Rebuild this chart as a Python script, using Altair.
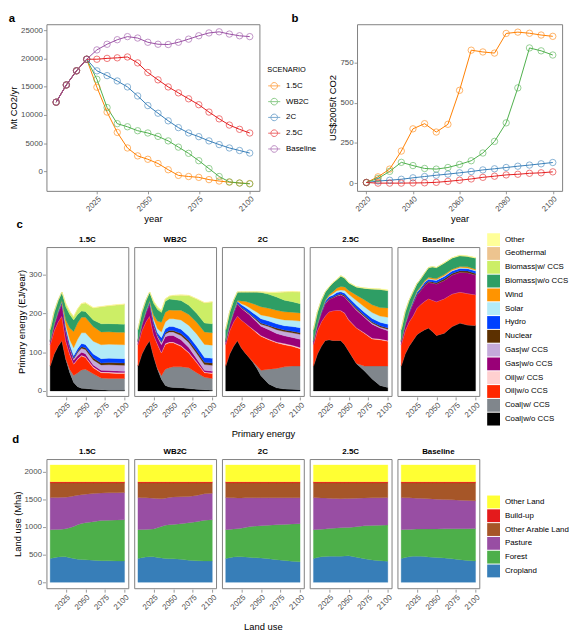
import altair as alt
import pandas as pd

SCENARIOS = ["1.5C", "WB2C", "2C", "2.5C", "Baseline"]
SCENARIO_COLORS = ["#FF7F00", "#4DAF4A", "#377EB8", "#E41A1C", "#984EA3"]

# ---------------- panel a: emissions (Mt CO2/yr)
EM_YEARS = [2005, 2010, 2015, 2020, 2025, 2030, 2035, 2040, 2045, 2050,
            2055, 2060, 2065, 2070, 2075, 2080, 2085, 2090, 2095, 2100]
EM_15C = [12250, 15300, 17800, 19850, 14900, 10500, 6900, 4150, 2750, 2150,
          1400, 300, -700, -900, -1050, -1450, -1700, -1900, -2050, -2150]
EM_WB2C = [12250, 15300, 17800, 19850, 16300, 11300, 8450, 7900, 7200, 6800,
           6200, 5400, 4300, 3200, 1900, 500, -900, -1850, -2050, -2200]
EM_2C = [12250, 15300, 17800, 19850, 17800, 16950, 16000, 14950, 13350, 11650,
         10300, 8950, 7750, 6800, 6150, 5400, 4750, 4150, 3700, 3250]
EM_25C = [12250, 15300, 17800, 19850, 19850, 20000, 20100, 20250, 19200, 17500,
          16200, 14950, 13900, 12850, 11800, 10500, 9300, 8200, 7450, 6800]
EM_BASE = [12250, 15300, 17800, 19850, 21500, 22500, 23300, 23850, 23600, 22850,
           22500, 22450, 22850, 23400, 24000, 24500, 24700, 24300, 24000, 23850]

# ---------------- panel b: carbon price (US$2005/t CO2)
PRICE_YEARS = [2020, 2025, 2030, 2035, 2040, 2045, 2050, 2055, 2060,
               2065, 2070, 2075, 2080, 2085, 2090, 2095, 2100]
PRICE_15C = [5, 40, 88, 200, 338, 370, 318, 366, 577, 826, 815, 808, 930, 938, 931, 920, 912]
PRICE_WB2C = [5, 30, 74, 130, 110, 92, 88, 98, 117, 140, 188, 260, 375, 592, 840, 822, 796]
PRICE_2C = [5, 14, 19, 25, 34, 42, 50, 57, 65, 73, 83, 90, 98, 106, 113, 121, 129]
PRICE_25C = [5, 1, 1, 1, 2, 3, 6, 12, 19, 27, 37, 44, 52, 56, 62, 65, 71]

# ---------------- panel c: primary energy (EJ/year)
PE_YEARS = [2005, 2010, 2015, 2020, 2025, 2030, 2035, 2040, 2045, 2050,
            2060, 2070, 2080, 2090, 2100]
FUELS = ["Other", "Geothermal", "Biomass|w/ CCS", "Biomass|w/o CCS", "Wind", "Solar",
         "Hydro", "Nuclear", "Gas|w/ CCS", "Gas|w/o CCS", "Oil|w/ CCS", "Oil|w/o CCS",
         "Coal|w/ CCS", "Coal|w/o CCS"]
FUEL_COLORS = ["#FFFF99", "#EDC48F", "#CCEE66", "#2E9E65", "#FF9400", "#B3EBF7",
               "#0040FF", "#5C3000", "#C4AADA", "#990077", "#FFD0D0", "#FF2800",
               "#80868C", "#000000"]

PE_15C = {
    "Coal|w/o CCS":    [64, 95, 115, 130, 81, 47, 22, 11, 7, 6, 4, 3, 2, 2, 2],
    "Coal|w/ CCS":     [0, 0, 0, 0, 2, 8, 18, 35, 47, 50, 40, 30, 30, 30, 30],
    "Oil|w/o CCS":     [55, 60, 63, 63, 45, 39, 29, 35, 36, 30, 16, 14, 14, 13, 13],
    "Oil|w/ CCS":      [0, 0, 0, 0, 1, 1, 1, 2, 2, 2, 2, 2, 2.5, 2.5, 2.5],
    "Gas|w/o CCS":     [8, 14, 22, 32, 24, 14, 9, 8, 8, 8, 5, 4, 4, 4, 3.5],
    "Gas|w/ CCS":      [0, 0, 0, 1, 2, 3, 4, 8, 10, 11, 13, 14, 15, 15, 15],
    "Nuclear":         [1, 1, 1, 1, 2, 2, 2, 3, 4, 4, 5, 5, 6, 6, 6],
    "Hydro":           [2, 3, 4, 4, 6, 6, 6, 7, 8, 9, 10, 11, 11, 11, 11],
    "Solar":           [0, 0, 0.5, 1, 7, 12, 20, 24, 28, 30, 33, 36, 36, 36, 36],
    "Wind":            [0, 0, 0.5, 1, 13, 30, 42, 42, 40, 40, 38, 33, 32, 32, 32],
    "Biomass|w/o CCS": [28, 30, 27, 22, 34, 35, 30, 22, 16, 15, 17, 21, 21, 21, 21],
    "Biomass|w/ CCS":  [0, 0, 0, 0, 8, 8, 8, 14, 19, 22, 31, 44, 46, 49, 51],
    "Geothermal":      [0, 0, 0, 0, 0, 0, 0, 0, 0, 0, 0, 0, 0.3, 0.3, 0.5],
    "Other":           [0.5, 0.5, 0.5, 0.5, 0.5, 1, 1, 1, 1, 1, 1.5, 1, 1, 1, 1],
}
PE_WB2C = {
    "Coal|w/o CCS":    [64, 95, 115, 130, 90, 56, 30, 14, 10, 9, 8, 6, 4, 3, 2],
    "Coal|w/ CCS":     [0, 0, 0, 0, 0, 2, 9, 42, 50, 53, 54, 54, 43, 32, 30],
    "Oil|w/o CCS":     [55, 60, 63, 63, 55, 62, 59, 64, 64, 62, 53, 38, 26, 12, 13],
    "Oil|w/ CCS":      [0, 0, 0, 0, 0, 1, 1, 2, 2, 2, 2, 2, 2, 2, 2],
    "Gas|w/o CCS":     [8, 14, 22, 32, 25, 18, 20, 18, 17, 17, 15, 12, 8, 4, 4],
    "Gas|w/ CCS":      [0, 0, 0, 1, 2, 3, 6, 7, 9, 9, 11, 13, 14, 15, 15],
    "Nuclear":         [1, 1, 1, 1, 2, 2, 2, 3, 4, 4, 5, 5, 6, 6, 6],
    "Hydro":           [2, 3, 4, 4, 6, 6, 10, 10, 10, 10, 11, 11, 12, 12, 12],
    "Solar":           [0, 0, 0.5, 1, 6, 10, 15, 18, 20, 20, 24, 28, 32, 34, 34],
    "Wind":            [0, 0, 0.5, 1, 10, 20, 25, 25, 23, 22, 25, 28, 30, 32, 32],
    "Biomass|w/o CCS": [28, 30, 27, 22, 30, 30, 25, 28, 28, 28, 25, 24, 23, 23, 23],
    "Biomass|w/ CCS":  [0, 0, 0, 0, 5, 6, 5, 6, 7, 10, 14, 25, 37, 52, 56],
    "Geothermal":      [0, 0, 0, 0, 0, 0, 0, 0, 0, 0, 0, 0, 0.3, 0.3, 0.5],
    "Other":           [0.5, 0.5, 0.5, 0.5, 1, 1, 1, 1, 1, 1, 1, 1, 1, 1, 1],
}
PE_2C = {
    "Coal|w/o CCS":    [64, 95, 115, 130, 111, 98, 86, 73, 58, 39, 18, 8, 5, 4, 3],
    "Coal|w/ CCS":     [0, 0, 0, 0, 0, 0, 0, 2, 6, 14, 38, 50, 57, 60, 61],
    "Oil|w/o CCS":     [55, 60, 63, 63, 72, 77, 80, 83, 85, 88, 76, 66, 57, 51, 45],
    "Oil|w/ CCS":      [0, 0, 0, 0, 0, 0, 1, 1, 2, 2, 2, 2, 3, 3, 3],
    "Gas|w/o CCS":     [8, 14, 22, 32, 30, 30, 30, 28, 26, 24, 24, 22, 20, 20, 21],
    "Gas|w/ CCS":      [0, 0, 0, 1, 1, 2, 2, 3, 4, 5, 8, 10, 11, 12, 13],
    "Nuclear":         [1, 1, 1, 1, 2, 2, 2, 2, 3, 3, 3, 4, 4, 4, 4],
    "Hydro":           [2, 3, 4, 4, 6, 7, 8, 9, 10, 11, 11, 11, 11, 12, 13],
    "Solar":           [0, 0, 0.5, 1, 3, 5, 6, 8, 9, 10, 12, 14, 15, 16, 17],
    "Wind":            [0, 0, 0.5, 1, 7, 10, 13, 16, 18, 21, 21, 21, 21, 21, 21],
    "Biomass|w/o CCS": [28, 30, 27, 22, 23, 24, 27, 30, 34, 37, 36, 34, 30, 27, 24],
    "Biomass|w/ CCS":  [0, 0, 0, 0, 0, 0, 0, 0, 0, 1, 5, 12, 21, 26, 30],
    "Geothermal":      [0, 0, 0, 0, 0, 0, 0, 0, 0, 0, 0, 0, 0, 0, 0],
    "Other":           [0.5, 0.5, 0.5, 0.5, 1, 1, 1, 1, 1, 1, 1, 1, 1, 1, 1],
}
PE_25C = {
    "Coal|w/o CCS":    [64, 95, 115, 130, 132, 130, 130, 130, 119, 103, 70, 52, 31, 14, 9],
    "Coal|w/ CCS":     [0, 0, 0, 0, 0, 0, 0, 0, 0, 0, 1, 12, 33, 50, 55],
    "Oil|w/o CCS":     [55, 60, 63, 63, 72, 77, 78, 77, 81, 80, 91, 85, 70, 68, 64],
    "Oil|w/ CCS":      [0, 0, 0, 0, 0, 0, 0, 0.5, 1, 1, 1, 1, 2, 2, 2],
    "Gas|w/o CCS":     [8, 14, 22, 32, 32, 33, 37, 40, 41, 46, 45, 40, 36, 28, 25],
    "Gas|w/ CCS":      [0, 0, 0, 1, 0, 0, 0.5, 1, 1, 1, 2, 2, 3, 3, 4],
    "Nuclear":         [1, 1, 1, 1, 2, 2, 2, 2, 3, 3, 3, 3, 3, 3, 3],
    "Hydro":           [2, 3, 4, 4, 5, 5, 6, 5, 6, 7, 8, 8, 9, 9, 10],
    "Solar":           [0, 0, 0.5, 1, 2, 4, 5, 5, 7, 8, 12, 14, 15, 16, 18],
    "Wind":            [0, 0, 0.5, 1, 3, 5, 7, 9, 9, 10, 14, 18, 20, 22, 24],
    "Biomass|w/o CCS": [28, 30, 27, 22, 20, 23, 22, 27, 23, 20, 21, 30, 41, 47, 45],
    "Biomass|w/ CCS":  [0, 0, 0, 0, 0, 0, 0, 0, 0, 0, 0, 0, 0, 0, 0],
    "Geothermal":      [0, 0, 0, 0, 0, 0, 0, 0, 0, 0, 0, 0, 0, 0, 0],
    "Other":           [0.5, 0.5, 0.5, 0.5, 1, 1, 1, 1, 1, 1, 1, 1, 1, 1.5, 2],
}
PE_BASE = {
    "Coal|w/o CCS":    [64, 95, 115, 130, 145, 152, 158, 162, 153, 143, 149, 166, 175, 170, 169],
    "Coal|w/ CCS":     [0, 0, 0, 0, 0, 0, 0, 0, 0, 0, 0, 0, 0, 0, 0],
    "Oil|w/o CCS":     [55, 60, 63, 63, 68, 71, 73, 76, 81, 87, 89, 84, 80, 81, 79],
    "Oil|w/ CCS":      [0, 0, 0, 0, 0, 0, 0, 0, 0, 0, 0, 0, 0, 0, 0],
    "Gas|w/o CCS":     [8, 14, 22, 32, 34, 36, 41, 42, 44, 46, 47, 49, 51, 54, 51],
    "Gas|w/ CCS":      [0, 0, 0, 1, 0, 0, 0, 0, 0, 0, 0, 0, 0, 0, 0],
    "Nuclear":         [1, 1, 1, 1, 2, 2, 3, 3, 3, 3, 4, 4, 4, 4, 4],
    "Hydro":           [2, 3, 4, 4, 5, 5, 5, 5, 5, 6, 6, 6, 6, 6, 6],
    "Solar":           [0, 0, 0.5, 1, 1, 1.5, 1.5, 2, 2, 2, 2, 2, 2, 2, 2],
    "Wind":            [0, 0, 0.5, 1, 2, 2.5, 2.5, 3, 3, 3, 3, 3, 3, 3, 3],
    "Biomass|w/o CCS": [28, 30, 27, 22, 19, 19, 20, 25, 29, 28, 30, 29, 28, 27, 29],
    "Biomass|w/ CCS":  [0, 0, 0, 0, 0, 0, 0, 0, 0, 0, 0, 0, 0, 0, 0],
    "Geothermal":      [0, 0, 0, 0, 0, 0, 0, 0, 0, 0, 0, 0, 0, 0, 0],
    "Other":           [0.5, 0.5, 0.5, 0.5, 0.5, 0.5, 0.5, 1, 1, 1, 1, 1, 1.5, 1.5, 1.5],
}

# ---------------- panel d: land use (Mha)
LAND_YEARS = [2005, 2010, 2015, 2020, 2025, 2030, 2035, 2040, 2045, 2050,
              2060, 2070, 2080, 2090, 2100]
LANDS = ["Other Land", "Build-up", "Other Arable Land", "Pasture", "Forest", "Cropland"]
LAND_COLORS = ["#FFFF33", "#E41A1C", "#A65628", "#984EA3", "#4DAF4A", "#377EB8"]

LU_15C = {
    "Cropland":          [430, 445, 458, 462, 460, 445, 430, 418, 412, 408, 400, 392, 388, 386, 385],
    "Forest":            [520, 507, 498, 498, 508, 540, 580, 622, 650, 668, 695, 723, 732, 739, 745],
    "Pasture":           [580, 578, 576, 575, 570, 560, 550, 532, 520, 514, 507, 497, 496, 493, 490],
    "Other Arable Land": [265, 265, 263, 260, 257, 250, 235, 223, 213, 205, 193, 183, 179, 177, 175],
    "Build-up":          [20, 20, 20, 20, 20, 20, 20, 20, 20, 20, 20, 20, 20, 20, 20],
    "Other Land":        [305, 305, 305, 305, 305, 305, 305, 305, 305, 305, 305, 305, 305, 305, 305],
}
LU_WB2C = {
    "Cropland":          [430, 445, 458, 462, 462, 450, 440, 430, 427, 425, 415, 398, 390, 386, 385],
    "Forest":            [520, 507, 498, 498, 503, 535, 570, 600, 613, 620, 643, 677, 705, 734, 745],
    "Pasture":           [580, 576, 571, 565, 555, 527, 498, 490, 492, 495, 487, 475, 475, 480, 480],
    "Other Arable Land": [265, 267, 268, 270, 275, 283, 287, 275, 263, 255, 250, 245, 225, 195, 185],
    "Build-up":          [20, 20, 20, 20, 20, 20, 20, 20, 20, 20, 20, 20, 20, 20, 20],
    "Other Land":        [305, 305, 305, 305, 305, 305, 305, 305, 305, 305, 305, 305, 305, 305, 305],
}
LU_2C = {
    "Cropland":          [430, 445, 458, 462, 462, 458, 452, 446, 443, 440, 428, 410, 395, 380, 370],
    "Forest":            [520, 510, 504, 506, 516, 532, 550, 566, 575, 582, 602, 628, 650, 672, 690],
    "Pasture":           [580, 573, 564, 557, 547, 536, 525, 516, 510, 506, 498, 490, 483, 476, 468],
    "Other Arable Land": [265, 267, 269, 270, 270, 269, 268, 267, 267, 267, 267, 267, 267, 267, 267],
    "Build-up":          [20, 20, 20, 20, 20, 20, 20, 20, 20, 20, 20, 20, 20, 20, 20],
    "Other Land":        [305, 305, 305, 305, 305, 305, 305, 305, 305, 305, 305, 305, 305, 305, 305],
}
LU_25C = {
    "Cropland":          [430, 448, 462, 468, 472, 472, 470, 470, 474, 480, 455, 425, 405, 392, 380],
    "Forest":            [520, 507, 498, 497, 498, 503, 510, 515, 514, 510, 550, 595, 623, 640, 655],
    "Pasture":           [580, 573, 565, 557, 548, 539, 532, 525, 524, 525, 515, 504, 498, 496, 495],
    "Other Arable Land": [265, 267, 270, 273, 277, 281, 283, 285, 283, 280, 275, 271, 269, 267, 265],
    "Build-up":          [20, 20, 20, 20, 20, 20, 20, 20, 20, 20, 20, 20, 20, 20, 20],
    "Other Land":        [305, 305, 305, 305, 305, 305, 305, 305, 305, 305, 305, 305, 305, 305, 305],
}
LU_BASE = {
    "Cropland":          [430, 448, 462, 470, 472, 470, 465, 458, 453, 450, 440, 425, 410, 395, 385],
    "Forest":            [520, 505, 494, 490, 490, 493, 499, 507, 512, 515, 526, 542, 558, 574, 585],
    "Pasture":           [580, 575, 570, 564, 558, 553, 549, 545, 541, 537, 529, 523, 516, 509, 502],
    "Other Arable Land": [265, 267, 269, 271, 275, 279, 282, 285, 289, 293, 300, 305, 311, 317, 323],
    "Build-up":          [20, 20, 20, 20, 20, 20, 20, 20, 20, 20, 20, 20, 20, 20, 20],
    "Other Land":        [305, 305, 305, 305, 305, 305, 305, 305, 305, 305, 305, 305, 305, 305, 305],
}

# ---------------- data frames
em_rows = []
for s, vals in zip(SCENARIOS, [EM_15C, EM_WB2C, EM_2C, EM_25C, EM_BASE]):
    for y, v in zip(EM_YEARS, vals):
        em_rows.append({"scenario": s, "year": y, "value": v})
df_em = pd.DataFrame(em_rows)

pr_rows = []
for s, vals in zip(SCENARIOS[:4], [PRICE_15C, PRICE_WB2C, PRICE_2C, PRICE_25C]):
    for y, v in zip(PRICE_YEARS, vals):
        pr_rows.append({"scenario": s, "year": y, "value": v})
df_pr = pd.DataFrame(pr_rows)

pe_rows = []
for s, table in zip(SCENARIOS, [PE_15C, PE_WB2C, PE_2C, PE_25C, PE_BASE]):
    for f, vals in table.items():
        for y, v in zip(PE_YEARS, vals):
            pe_rows.append({"scenario": s, "year": y, "fuel": f, "value": v,
                            "stack": len(FUELS) - 1 - FUELS.index(f)})
df_pe = pd.DataFrame(pe_rows)

lu_rows = []
for s, table in zip(SCENARIOS, [LU_15C, LU_WB2C, LU_2C, LU_25C, LU_BASE]):
    for k, vals in table.items():
        for y, v in zip(LAND_YEARS, vals):
            lu_rows.append({"scenario": s, "year": y, "land": k, "value": v,
                            "stack": len(LANDS) - 1 - LANDS.index(k)})
df_lu = pd.DataFrame(lu_rows)

LINE_KEY = "M-1,0L1,0M0.55,0A0.55,0.55,0,1,1,-0.55,0A0.55,0.55,0,1,1,0.55,0"


def letter(t, dx=0, offset=3):
    return alt.TitleParams(t, anchor="start", fontSize=11.5, fontWeight="bold",
                           offset=offset, dx=dx, frame="bounds")


def year_axis(values, title):
    return alt.Axis(values=values, format="d", labelAngle=-45, title=title,
                    labelPadding=1, titlePadding=1)


# ---------------- panel a
em_base = alt.Chart(df_em).encode(
    x=alt.X("year:Q", scale=alt.Scale(domain=[2000.25, 2104.75], nice=False, zero=False),
            axis=year_axis([2025, 2050, 2075, 2100], "year")),
    y=alt.Y("value:Q", scale=alt.Scale(domain=[-3440, 26040], nice=False, zero=False),
            axis=alt.Axis(values=[0, 5000, 10000, 15000, 20000, 25000], format="d",
                          title="Mt CO2/yr")),
    color=alt.Color("scenario:N", scale=alt.Scale(domain=SCENARIOS, range=SCENARIO_COLORS),
                    legend=alt.Legend(title="SCENARIO", orient="none", legendX=224, legendY=42,
                                      symbolType=LINE_KEY, symbolSize=150,
                                      symbolStrokeWidth=1, symbolFillColor="transparent",
                                      rowPadding=3, titlePadding=6, labelOffset=5)),
)
chart_a = alt.layer(
    em_base.mark_line(strokeWidth=1),
    em_base.mark_point(shape="circle", filled=False, size=42, strokeWidth=0.9, opacity=0.65),
).properties(width=216, height=169, title=letter("a", offset=0))

# ---------------- panel b
pr_base = alt.Chart(df_pr).encode(
    x=alt.X("year:Q", scale=alt.Scale(domain=[2016, 2104], nice=False, zero=False),
            axis=year_axis([2020, 2040, 2060, 2080, 2100], "year")),
    y=alt.Y("value:Q", scale=alt.Scale(domain=[-47, 987], nice=False, zero=False),
            axis=alt.Axis(values=[0, 250, 500, 750], format="d", title="US$2005/t CO2")),
    color=alt.Color("scenario:N", scale=alt.Scale(domain=SCENARIOS, range=SCENARIO_COLORS),
                    legend=None),
)
chart_b = alt.layer(
    pr_base.mark_line(strokeWidth=1),
    pr_base.mark_point(shape="circle", filled=False, size=42, strokeWidth=0.9, opacity=0.65),
).properties(width=208, height=169, title=letter("b", dx=-37, offset=0))

row1 = alt.hconcat(chart_a, chart_b, spacing=-27).resolve_scale(
    color="independent", x="independent", y="independent")

# ---------------- panel c
area_c = alt.Chart(df_pe).mark_area(strokeWidth=0.3).encode(
    x=alt.X("year:Q", scale=alt.Scale(domain=[2000.25, 2104.75], nice=False, zero=False),
            axis=year_axis([2025, 2050, 2075, 2100], None)),
    y=alt.Y("value:Q", stack="zero", scale=alt.Scale(domain=[-13, 371], nice=False),
            axis=alt.Axis(values=[0, 100, 200, 300], format="d",
                          title="Primary energy (EJ/year)")),
    color=alt.Color("fuel:N", scale=alt.Scale(domain=FUELS, range=FUEL_COLORS),
                    legend=alt.Legend(title=None, orient="none", legendX=447, legendY=-14,
                                      symbolType="square", symbolSize=169,
                                      symbolStrokeWidth=0, rowPadding=1, labelOffset=5)),
    stroke=alt.Stroke("fuel:N", scale=alt.Scale(domain=FUELS, range=FUEL_COLORS), legend=None),
    order=alt.Order("stack:Q", sort="ascending"),
).properties(width=83, height=151)

chart_c = area_c.facet(
    column=alt.Column("scenario:N", sort=SCENARIOS,
                      header=alt.Header(title="Primary energy", titleOrient="bottom",
                                        labelOrient="top", labelFontWeight="bold",
                                        labelFontSize=8, labelPadding=2,
                                        titleFontSize=9.5, titleFontWeight="normal",
                                        titlePadding=0)),
    spacing=4,
).properties(title=letter("c"))

# ---------------- panel d
area_d = alt.Chart(df_lu).mark_area(strokeWidth=0.3).encode(
    x=alt.X("year:Q", scale=alt.Scale(domain=[2000.25, 2104.75], nice=False, zero=False),
            axis=year_axis([2025, 2050, 2075, 2100], None)),
    y=alt.Y("value:Q", stack="zero", scale=alt.Scale(domain=[-106, 2226], nice=False),
            axis=alt.Axis(values=[0, 500, 1000, 1500, 2000], format="d",
                          title="Land use (Mha)")),
    color=alt.Color("land:N", scale=alt.Scale(domain=LANDS, range=LAND_COLORS),
                    legend=alt.Legend(title=None, orient="none", legendX=447, legendY=37,
                                      symbolType="square", symbolSize=169,
                                      symbolStrokeWidth=0, rowPadding=1, labelOffset=5)),
    stroke=alt.Stroke("land:N", scale=alt.Scale(domain=LANDS, range=LAND_COLORS), legend=None),
    order=alt.Order("stack:Q", sort="ascending"),
).properties(width=83, height=131)

chart_d = area_d.facet(
    column=alt.Column("scenario:N", sort=SCENARIOS,
                      header=alt.Header(title="Land use", titleOrient="bottom",
                                        labelOrient="top", labelFontWeight="bold",
                                        labelFontSize=8, labelPadding=2,
                                        titleFontSize=9.5, titleFontWeight="normal",
                                        titlePadding=0)),
    spacing=4,
).properties(title=letter("d"))

chart = alt.vconcat(row1, chart_c, chart_d, spacing=-6).resolve_scale(
    color="independent", stroke="independent", x="independent", y="independent"
).resolve_legend(color="independent").properties(padding=0).configure(
    font="Liberation Sans"
).configure_view(
    stroke="#808080", strokeWidth=1
).configure_axis(
    domain=False, grid=False, tickColor="#808080", tickSize=3, tickWidth=0.8,
    labelColor="#4D4D4D", labelFontSize=8, titleFontSize=9.5, titleFontWeight="normal",
    titleColor="black", labelPadding=1, titlePadding=2
).configure_header(
    labelColor="black"
).configure_legend(
    labelFontSize=8, titleFontSize=7.5, titleFontWeight="normal", padding=0
)

chart.save("out.html", embed_options={"renderer": "svg", "actions": False})
